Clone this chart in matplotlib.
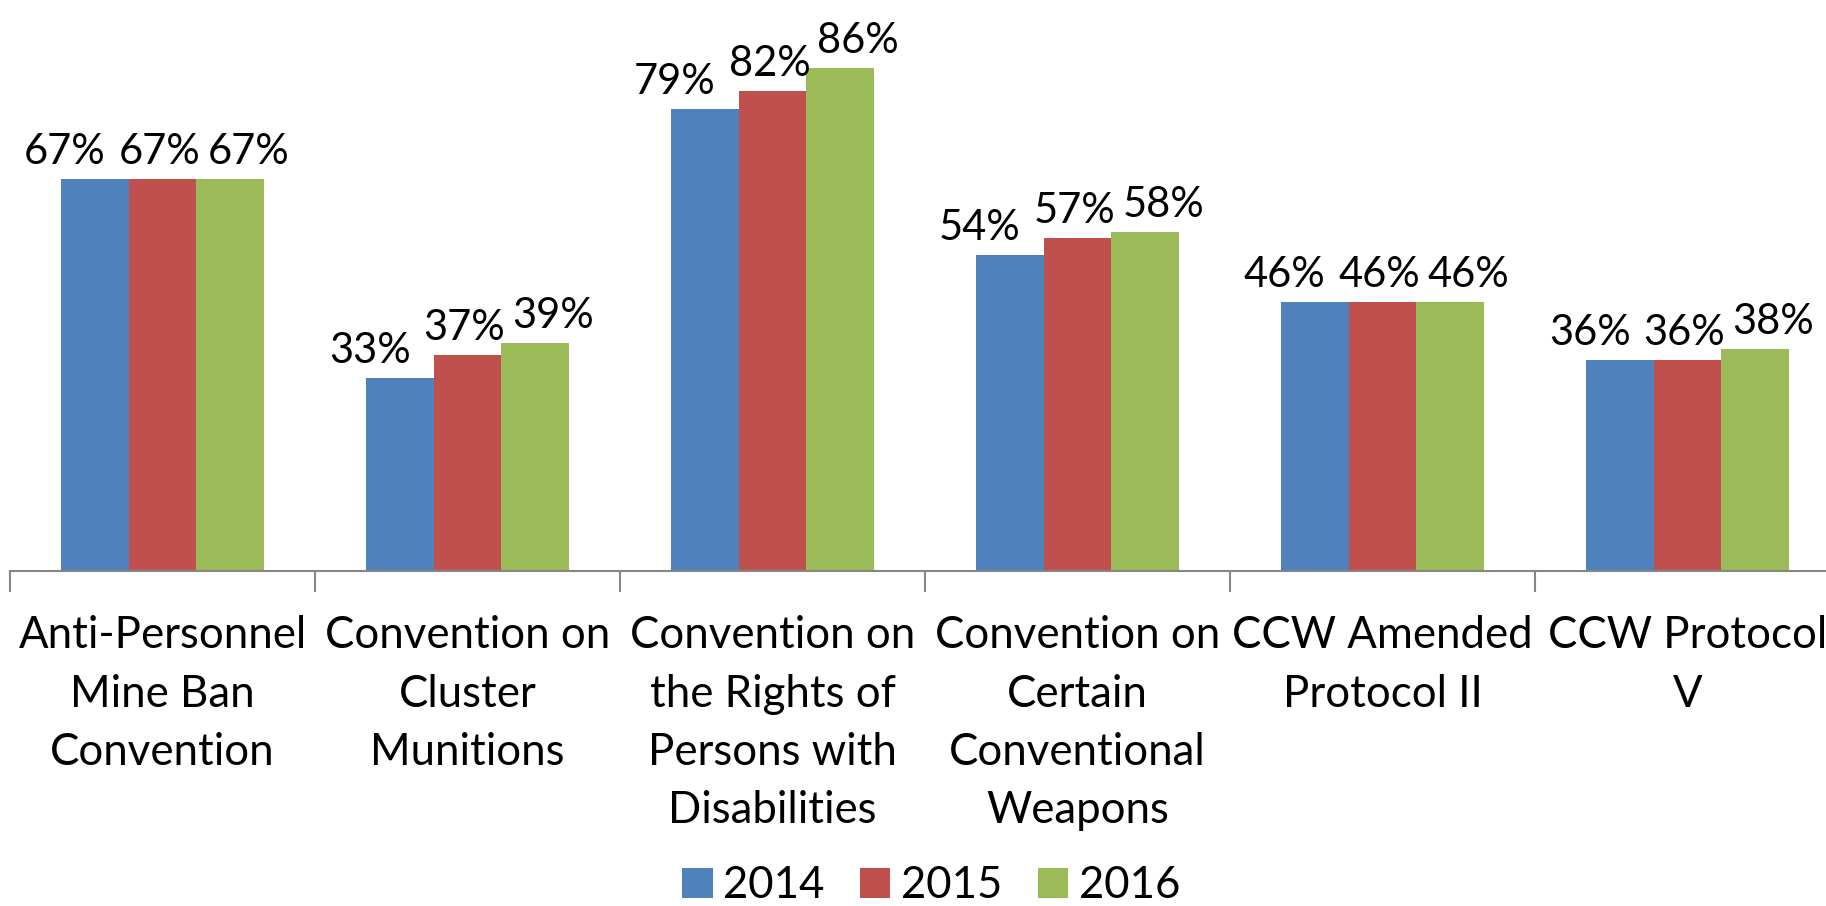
import numpy as np
import matplotlib.pyplot as plt
from matplotlib.ticker import FixedLocator

plt.rcParams['font.family'] = ['Lato', 'DejaVu Sans']

categories = ["Anti-Personnel\nMine Ban\nConvention",
              "Convention on\nCluster\nMunitions",
              "Convention on\nthe Rights of\nPersons with\nDisabilities",
              "Convention on\nCertain\nConventional\nWeapons",
              "CCW Amended\nProtocol II",
              "CCW Protocol\nV"]
years = ["2014", "2015", "2016"]
v2014 = [67, 33, 79, 54, 46, 36]
v2015 = [67, 37, 82, 57, 46, 36]
v2016 = [67, 39, 86, 58, 46, 38]
colors = ["#4F81BD", "#C0504D", "#9BBB59"]

fig = plt.figure(figsize=(18.26, 9.06), dpi=100)
ax = fig.add_axes([10/1826, 335/906, 1 - 10/1826, 571/906])

x = np.arange(len(categories))
w = 1/4.5
fs = 30
fs_tick = 31.5
label_shift = [-30, -3, 18]  # pixels, keeps labels from overlapping
for i, (vals, yr) in enumerate(zip([v2014, v2015, v2016], years)):
    bars = ax.bar(x + (i - 1)*w, vals, w, color=colors[i], label=yr)
    for b, v in zip(bars, vals):
        ax.annotate(f"{v}%", (b.get_x() + b.get_width()/2, v),
                    xytext=(label_shift[i], 8), textcoords='offset pixels',
                    ha='center', va='bottom', fontsize=fs, annotation_clip=False)

ax.set_xlim(-0.5, (1826 - 10)/305 - 0.5)
ax.set_ylim(0, 571/5.85)
for s in ['left', 'top', 'right']:
    ax.spines[s].set_visible(False)
ax.spines['bottom'].set_color('#868686')
ax.spines['bottom'].set_linewidth(1.5)
ax.set_yticks([])
ax.set_xticks(x)
ax.set_xticklabels(categories, fontsize=fs_tick, linespacing=1.52)
ax.tick_params(axis='x', which='major', length=0, pad=32)
ax.xaxis.set_minor_locator(FixedLocator(np.arange(-0.5, 6, 1)))
ax.tick_params(axis='x', which='minor', length=15, width=1.5, color='#868686')

fig.legend(loc='lower center', bbox_to_anchor=(0.51, -0.044), ncol=3, frameon=False,
           fontsize=fs_tick, handlelength=0.7, handleheight=0.7, handletextpad=0.25,
           columnspacing=0.8)

fig.savefig("out.png", dpi=100)
